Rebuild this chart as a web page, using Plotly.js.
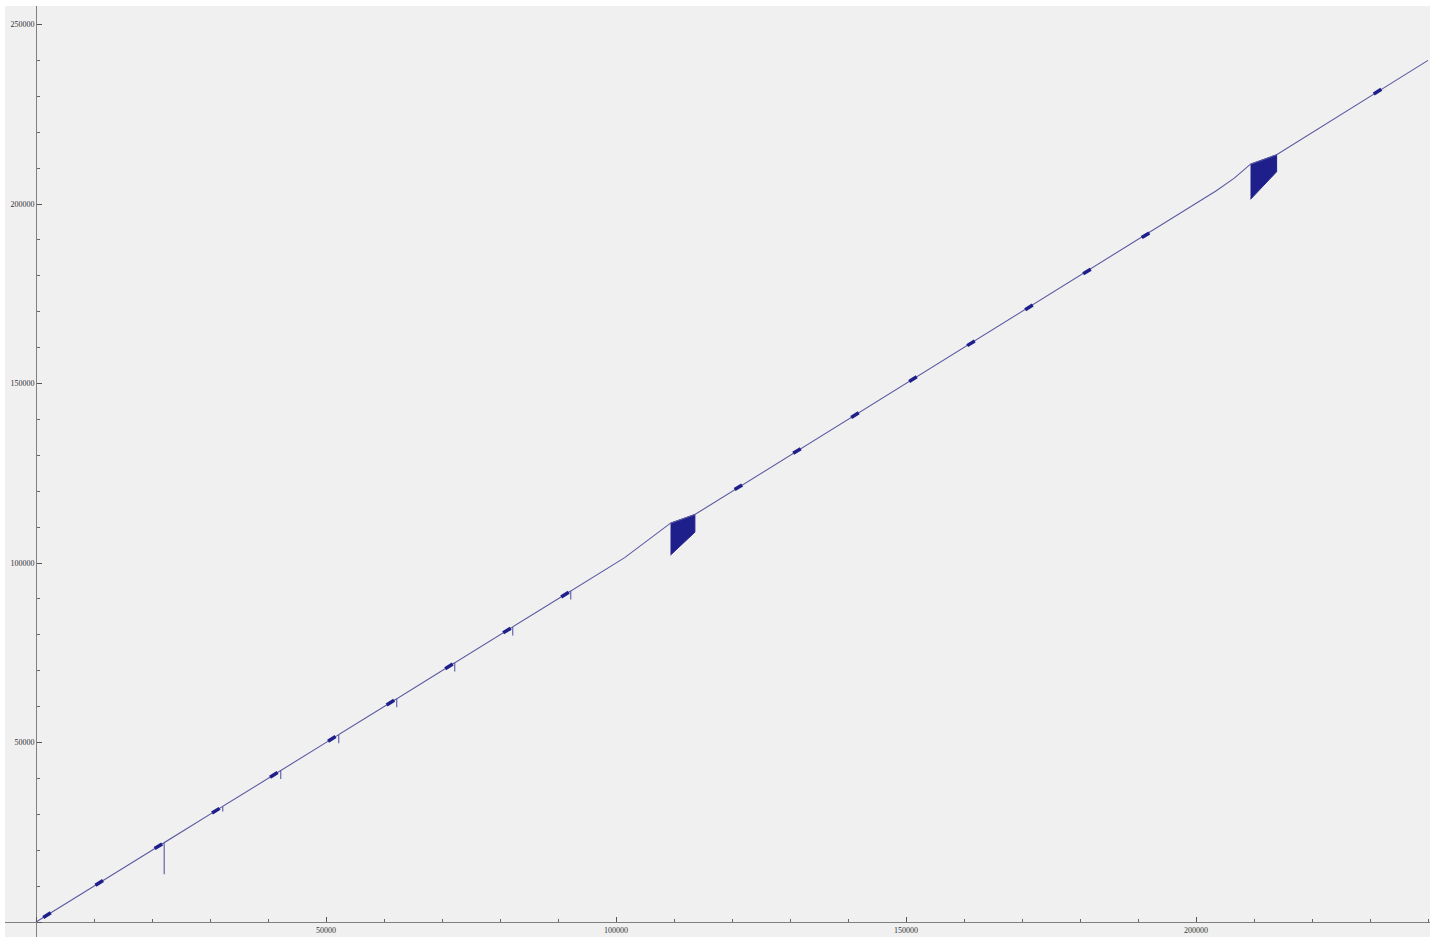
<!DOCTYPE html>
<html>
<head>
<meta charset="utf-8">
<script src="https://cdn.plot.ly/plotly-3.0.1.min.js"></script>
<style>
  html, body { margin: 0; padding: 0; background: #ffffff; }
  #chart { width: 1440px; height: 937px; }
</style>
</head>
<body>
<div id="chart"></div>
<script>
// Main curve: runs along y = x, with short downward spikes and two steep bends.
const curveX = [0,
  22100, 22100, 22100,
  32200, 32200, 32200,
  42200, 42200, 42200,
  52200, 52200, 52200,
  62200, 62200, 62200,
  72200, 72200, 72200,
  82200, 82200, 82200,
  92200, 92200, 92200,
  101500, 104500, 107900, 109400, 113600,
  199500, 203500, 206600, 209400, 213900,
  240000];
const curveY = [0,
  22100, 13300, 22100,
  32200, 30800, 32200,
  42200, 39800, 42200,
  52200, 49800, 52200,
  62200, 59800, 62200,
  72200, 69800, 72200,
  82200, 79800, 82200,
  92200, 89800, 92200,
  101500, 105100, 109200, 111100, 113500,
  199500, 203700, 207200, 211100, 213700,
  240000];

// Dense oscillation bands (upper and lower envelopes).
const band1X = [109400, 113600];
const band1Upper = [111100, 113500];
const band1Lower = [102200, 108600];

const band2X = [209400, 213900];
const band2Upper = [211100, 213700];
const band2Lower = [201300, 209000];

// Small dense clusters sitting on the curve.
const blobX = [1900, 10900, 21100, 31000, 41000, 51000, 61100, 71200, 81200, 91200,
  121100, 131200, 141200, 151200, 161200, 171200, 181200, 191300, 231300];
const blobY = [1900, 10900, 21100, 31000, 41000, 51000, 61100, 71200, 81200, 91200,
  121100, 131200, 141200, 151200, 161200, 171200, 181200, 191300, 231300];

// Axis ticks
const majorTicks = [0, 50000, 100000, 150000, 200000, 250000];
const xTickText = ['', '50000', '100000', '150000', '200000', ''];
const yTickText = ['', '50000', '100000', '150000', '200000', '250000'];

const lineColor = '#5a5aa2';
const inkColor = '#1f1f8c';
const blobHalf = 650;

function bandTrace(xs, upper, lower) {
  const px = xs.concat(xs.slice().reverse());
  const py = upper.concat(lower.slice().reverse());
  return {
    x: px, y: py, type: 'scatter', mode: 'lines',
    fill: 'toself', fillcolor: inkColor,
    line: {color: inkColor, width: 1},
    hoverinfo: 'skip', showlegend: false
  };
}

const bx = [], by = [];
blobX.forEach((c, i) => {
  bx.push(c - blobHalf, c + blobHalf, null);
  by.push(blobY[i] - blobHalf, blobY[i] + blobHalf, null);
});

const traces = [
  bandTrace(band1X, band1Upper, band1Lower),
  bandTrace(band2X, band2Upper, band2Lower),
  {
    x: curveX, y: curveY, type: 'scatter', mode: 'lines',
    line: {color: lineColor, width: 1.1},
    hoverinfo: 'skip', showlegend: false
  },
  {
    x: bx, y: by, type: 'scatter', mode: 'lines',
    line: {color: inkColor, width: 3.5},
    connectgaps: false, hoverinfo: 'skip', showlegend: false
  }
];

const tickFont = {family: 'Liberation Serif, Times New Roman, serif', size: 8, color: '#333333'};

const layout = {
  width: 1440, height: 937,
  margin: {l: 5, r: 10, t: 6, b: 0},
  paper_bgcolor: '#ffffff',
  plot_bgcolor: '#f0f0f0',
  showlegend: false,
  xaxis: {
    range: [-5345, 240345],
    anchor: 'free', position: 0.0161,
    showgrid: false, zeroline: false,
    showline: true, linecolor: '#808080', linewidth: 1,
    tickmode: 'array', tickvals: majorTicks, ticktext: xTickText,
    ticks: 'inside', ticklen: 5, tickcolor: '#555555', tickwidth: 1,
    minor: {tickmode: 'linear', tick0: 0, dtick: 10000, ticks: 'inside', ticklen: 3, tickcolor: '#666666'},
    tickfont: tickFont
  },
  yaxis: {
    range: [-4178, 255153],
    anchor: 'free', position: 0.02175,
    showgrid: false, zeroline: false,
    showline: true, linecolor: '#808080', linewidth: 1,
    tickmode: 'array', tickvals: majorTicks, ticktext: yTickText,
    ticks: 'inside', ticklen: 5, tickcolor: '#555555', tickwidth: 1,
    minor: {tickmode: 'linear', tick0: 0, dtick: 10000, ticks: 'inside', ticklen: 3, tickcolor: '#666666'},
    tickfont: tickFont
  }
};

Plotly.newPlot('chart', traces, layout, {staticPlot: true, displayModeBar: false});
</script>
</body>
</html>
